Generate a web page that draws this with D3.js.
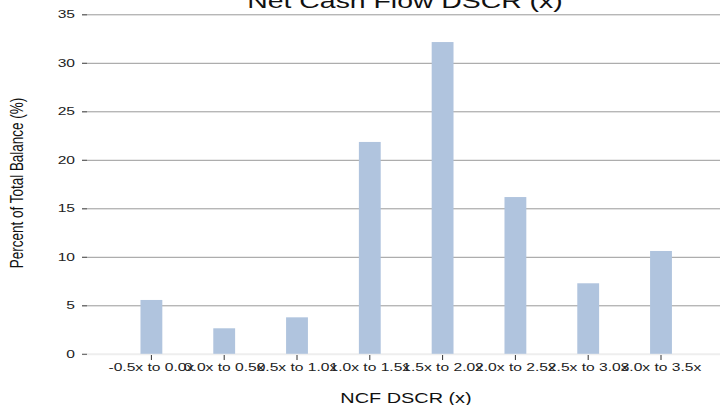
<!DOCTYPE html>
<html>
<head>
<meta charset="utf-8">
<script src="https://cdnjs.cloudflare.com/ajax/libs/d3/7.8.5/d3.min.js"></script>
<style>
body { margin: 0; background: #fff; }
svg { display: block; }
</style>
</head>
<body>
<div id="chart"></div>
<script>
// data
var categories = ['-0.5x to 0.0x', '0.0x to 0.5x', '0.5x to 1.0x', '1.0x to 1.5x',
	'1.5x to 2.0x', '2.0x to 2.5x', '2.5x to 3.0x', '3.0x to 3.5x'];
var values = [5.55, 2.63, 3.76, 21.84, 32.14, 16.16, 7.27, 10.6];
var yTicks = [0, 5, 10, 15, 20, 25, 30, 35];

var svgWidth = 720,
	svgHeight = 405;

// the original picture is stretched sideways, text too
var sx = 1.42;
var font = 'Liberation Sans, Arial, sans-serif';

var svg = d3.select('#chart')
	.append('svg')
	.attr('width', svgWidth)
	.attr('height', svgHeight);

var xScale = d3.scaleBand()
	.domain(categories)
	.range([115, 697.4])
	.paddingInner(0.7)
	.paddingOuter(0.35);

var yScale = d3.scaleLinear()
	.domain([0, 35])
	.range([353.8, 14.3]);

// gridlines + y ticks
var yAxis = d3.axisLeft(yScale)
	.tickValues(yTicks)
	.tickSize(-(720 - 82))
	.tickPadding(7);

var yG = svg.append('g')
	.attr('transform', 'translate(82,0)')
	.call(yAxis);
yG.select('.domain').remove();
yG.selectAll('.tick line')
	.attr('stroke', d => d === 0 ? '#eeeeee' : '#999999')
	.attr('stroke-width', d => d === 0 ? 2 : 1);
yG.selectAll('.tick text')
	.attr('font-family', font)
	.attr('font-size', 11)
	.attr('fill', '#222')
	.attr('x', -7 / sx)
	.attr('transform', `scale(${sx},1)`);
yG.selectAll('.tick')
	.append('line')
	.attr('x1', 0).attr('x2', 5)
	.attr('stroke', '#555');

// bars
svg.append('g')
	.selectAll('rect')
	.data(values)
	.enter()
	.append('rect')
	.attr('x', (d, i) => xScale(categories[i]))
	.attr('y', d => yScale(d))
	.attr('width', xScale.bandwidth())
	.attr('height', d => yScale(0) - yScale(d))
	.attr('fill', '#b0c4de');

// x axis
var xAxis = d3.axisBottom(xScale)
	.tickSize(5)
	.tickPadding(3);

var xG = svg.append('g')
	.attr('transform', 'translate(0,355)')
	.call(xAxis);
xG.select('.domain').remove();
xG.selectAll('.tick line').attr('stroke', '#333');
xG.selectAll('.tick text')
	.attr('font-family', font)
	.attr('font-size', 11)
	.attr('fill', '#222')
	.attr('transform', `scale(${sx},1)`);

// titles
svg.append('text')
	.attr('transform', `translate(405,8)scale(${sx},1)`)
	.attr('text-anchor', 'middle')
	.attr('font-family', font)
	.attr('font-size', 20)
	.attr('fill', '#111')
	.text('Net Cash Flow DSCR (x)');

svg.append('text')
	.attr('transform', `translate(406,403)scale(${sx},1)`)
	.attr('text-anchor', 'middle')
	.attr('font-family', font)
	.attr('font-size', 14)
	.attr('fill', '#111')
	.text('NCF DSCR (x)');

svg.append('text')
	.attr('transform', `translate(23,183)rotate(-90)scale(1,${sx})`)
	.attr('text-anchor', 'middle')
	.attr('font-family', font)
	.attr('font-size', 13.5)
	.attr('fill', '#111')
	.text('Percent of Total Balance (%)');
</script>
</body>
</html>
